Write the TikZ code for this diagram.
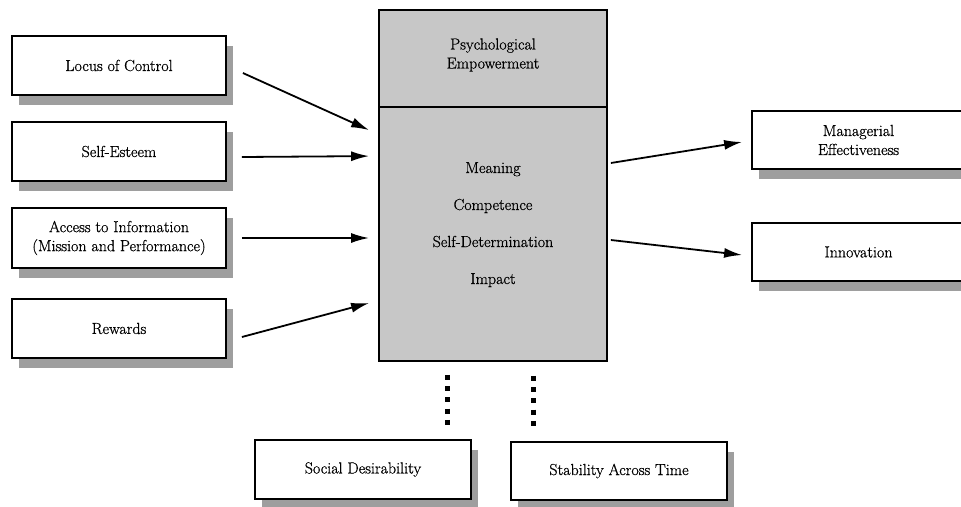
\documentclass[tikz,border=0pt]{standalone}
\usepackage{fontspec}
\setmainfont{Latin Modern Roman}[FakeBold=0.7]
\usetikzlibrary{shadows,arrows.meta,calc}
\begin{document}
\begin{tikzpicture}[x=1pt,y=-1pt,
  every node/.style={font=\fontsize{16}{19}\selectfont},
  box/.style={draw=black,line width=1.8pt,fill=white,inner sep=0pt,
    align=center,
    drop shadow={shadow xshift=7pt,shadow yshift=-10pt,fill=black!38,opacity=1}},
  lbox/.style={box,minimum width=214pt,minimum height=59pt},
  corebox/.style={draw=black,line width=1.8pt,fill=black!22,inner sep=0pt,align=center,minimum width=228pt},
  label/.style={inner sep=0pt,align=center},
  arr/.style={line width=1.8pt,-{Latex[length=18pt,width=10pt]}},
  dotline/.style={line width=5pt,dash pattern=on 5pt off 6.25pt}]
\clip (0,0) rectangle (961,506);
\fill[white] (0,0) rectangle (961,506);
% left boxes
\node[lbox] (locus) at (119,65.5) {Locus of Control};
\node[lbox] (selfest) at (119,151.5) {Self-Esteem};
\node[lbox,minimum height=60pt] (access) at (119,238) {Access to Information\\(Mission and Performance)};
\node[lbox] (rewards) at (119,328.5) {Rewards};
% central box
\node[corebox,minimum height=97pt] (top) at (493,58.5) {};
\node[corebox,minimum height=254pt] (core) at (493,234) {};
\node[label] (pe) at (493,55) {Psychological\\Empowerment};
\node[label,anchor=base] (m1) at (493,173) {Meaning};
\node[label,anchor=base] (m2) at (493,210) {Competence};
\node[label,anchor=base] (m3) at (493,247) {Self-Determination};
\node[label,anchor=base] (m4) at (493,284) {Impact};
% right boxes
\node[box,minimum width=213pt,minimum height=58pt] (manag) at (858.5,140) {Managerial\\Effectiveness};
\node[box,minimum width=213pt,minimum height=58pt] (innov) at (858.5,252) {Innovation};
% bottom boxes
\node[box,minimum width=216pt,minimum height=59pt] (social) at (363,469.5) {Social Desirability};
\node[box,minimum width=216pt,minimum height=58pt] (stab) at (619,471) {Stability Across Time};
% arrows
\draw[arr] ([shift={(16,7.5)}]locus.east) -- ([shift={(-9,24)}]core.north west);
\draw[arr] ([shift={(15,5.5)}]selfest.east) -- ([shift={(-9,50)}]core.north west);
\draw[arr] ([shift={(15,0)}]access.east) -- ([shift={(-9,4)}]core.west);
\draw[arr] ([shift={(15,8.5)}]rewards.east) -- ([shift={(-9,69)}]core.west);
\draw[arr] ([shift={(3,-71)}]core.east) -- ([shift={(-9,2)}]manag.west);
\draw[arr] ([shift={(3,6)}]core.east) -- ([shift={(-9,3)}]innov.west);
% dotted links
\draw[dotline] ([shift={(-46,13)}]core.south) -- ([shift={(-46,63)}]core.south);
\draw[dotline] ([shift={(40,14)}]core.south) -- ([shift={(40,64)}]core.south);
\end{tikzpicture}
\end{document}
